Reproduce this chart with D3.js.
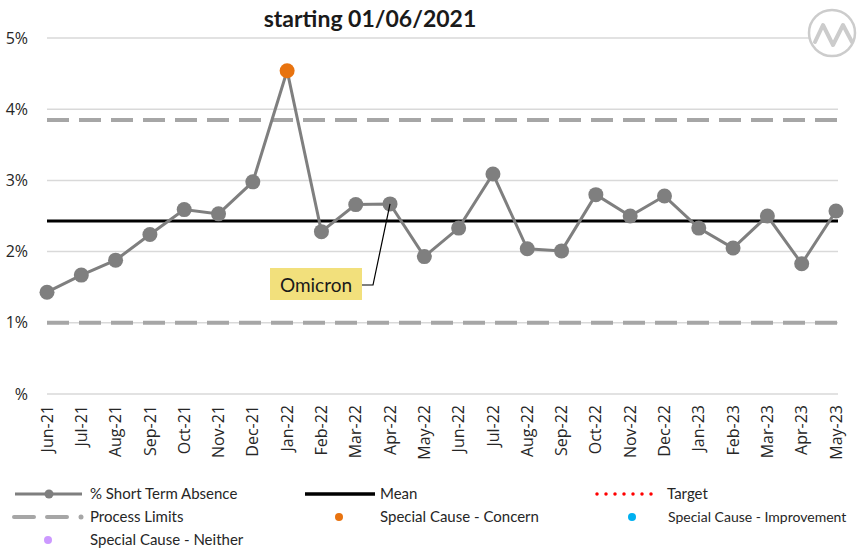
<!DOCTYPE html>
<html><head><meta charset="utf-8">
<script src="https://cdn.jsdelivr.net/npm/d3@7"></script>
<style>body{margin:0;background:#fff}svg{display:block;font-family:Lato,"Open Sans",sans-serif}</style>
</head><body><svg id="c" width="859" height="548"></svg>
<script>
const months = ["Jun-21","Jul-21","Aug-21","Sep-21","Oct-21","Nov-21","Dec-21","Jan-22","Feb-22","Mar-22","Apr-22","May-22","Jun-22","Jul-22","Aug-22","Sep-22","Oct-22","Nov-22","Dec-22","Jan-23","Feb-23","Mar-23","Apr-23","May-23"];
const absence = [1.43,1.67,1.88,2.24,2.59,2.53,2.98,4.54,2.28,2.66,2.67,1.93,2.33,3.09,2.04,2.01,2.80,2.50,2.78,2.33,2.05,2.50,1.83,2.57];
const specialConcern = ["Jan-22"];
const meanValue = 2.43;
const upperLimit = 3.85;
const lowerLimit = 1.00;
const yTicks = [0,1,2,3,4,5];
const yTickLabels = ["%","1%","2%","3%","4%","5%"];
const annotation = {label:"Omicron", month:"Apr-22"};
const title = "starting 01/06/2021";

const svg = d3.select("#c");
const x = d3.scalePoint().domain(months).range([47,836]);
const y = d3.scaleLinear().domain([0,5]).range([394,38]);
const x0 = 47, x1 = 838;
const axisFont = "'Open Sans',sans-serif";

// gridlines
svg.append("g").selectAll("line").data(yTicks).join("line")
  .attr("x1",x0).attr("x2",x1).attr("y1",d=>y(d)).attr("y2",d=>y(d))
  .attr("stroke","#d9d9d9").attr("stroke-width",1.5);

// y labels
svg.append("g").selectAll("text").data(yTicks).join("text")
  .attr("x",28).attr("y",d=>y(d)).attr("dy","0.35em").attr("text-anchor","end")
  .attr("font-family",axisFont).attr("font-size",16).attr("fill","#262626").text((d,i)=>yTickLabels[i]);

// x labels
svg.append("g").selectAll("text").data(months).join("text")
  .attr("transform",d=>`translate(${x(d)},405) rotate(-90)`)
  .attr("dy","0.35em").attr("text-anchor","end").attr("font-family",axisFont).attr("font-size",16).attr("fill","#262626")
  .text(d=>d);

// process limits
[upperLimit,lowerLimit].forEach(v=>{
  svg.append("line").attr("x1",x0).attr("x2",x1).attr("y1",y(v)).attr("y2",y(v))
    .attr("stroke","#a6a6a6").attr("stroke-width",4).attr("stroke-dasharray","22,10");
});
// mean
svg.append("line").attr("x1",x0).attr("x2",x1).attr("y1",y(meanValue)).attr("y2",y(meanValue))
  .attr("stroke","#000").attr("stroke-width",3);

// series line
svg.append("path").datum(absence)
  .attr("d",d3.line().x((d,i)=>x(months[i])).y(d=>y(d)))
  .attr("fill","none").attr("stroke","#7f7f7f").attr("stroke-width",3);
svg.append("g").selectAll("circle").data(absence).join("circle")
  .attr("cx",(d,i)=>x(months[i])).attr("cy",d=>y(d)).attr("r",7.5)
  .attr("fill",(d,i)=>specialConcern.includes(months[i])?"#e8730f":"#7f7f7f");

// icon
const ic = svg.append("g");
ic.append("circle").attr("cx",832).attr("cy",33).attr("r",23).attr("fill","#fff").attr("stroke","#cccccc").attr("stroke-width",2.5);
ic.append("path").attr("d","M815,42 L823,25 L833,45 L843,25 L852,42").attr("fill","none")
  .attr("stroke","#cccccc").attr("stroke-width",4).attr("stroke-linecap","round").attr("stroke-linejoin","round");

// title
svg.append("text").attr("x",370).attr("y",27).attr("text-anchor","middle")
  .attr("font-size",23).attr("font-weight","bold").attr("fill","#1a1a1a").text(title);

// annotation
const ax = x(annotation.month), ay = y(absence[months.indexOf(annotation.month)]);
svg.append("path").attr("d",`M${ax},${ay} L373,285 L362,285`).attr("fill","none").attr("stroke","#000").attr("stroke-width",1.2);
svg.append("rect").attr("x",270).attr("y",268).attr("width",92).attr("height",32).attr("fill","#f2e07c");
svg.append("text").attr("x",316).attr("y",285).attr("dy","0.35em").attr("text-anchor","middle")
  .attr("font-size",19).attr("fill","#1a1a1a").text(annotation.label);

// legend
const lg = svg.append("g").attr("font-size",15).attr("fill","#262626");
function ltext(tx,ty,t){return lg.append("text").attr("x",tx).attr("y",ty).attr("dy","0.35em").text(t);}
lg.append("line").attr("x1",15).attr("x2",82).attr("y1",494).attr("y2",494).attr("stroke","#7f7f7f").attr("stroke-width",3);
lg.append("circle").attr("cx",49).attr("cy",494).attr("r",4.5).attr("fill","#7f7f7f");
ltext(90,494,"% Short Term Absence");
lg.append("line").attr("x1",305).attr("x2",375).attr("y1",494).attr("y2",494).attr("stroke","#000").attr("stroke-width",3.5);
ltext(380,494,"Mean");
lg.append("line").attr("x1",597).attr("x2",660).attr("y1",494).attr("y2",494).attr("stroke","#ff0000").attr("stroke-width",3.5).attr("stroke-dasharray","0,9").attr("stroke-linecap","round");
ltext(667,494,"Target");
lg.append("line").attr("x1",14).attr("x2",67).attr("y1",517).attr("y2",517).attr("stroke","#a6a6a6").attr("stroke-width",4).attr("stroke-dasharray","20,13").attr("stroke-linecap","round");
lg.append("circle").attr("cx",81).attr("cy",517).attr("r",2.5).attr("fill","#a6a6a6");
ltext(90,517,"Process Limits");
lg.append("circle").attr("cx",339).attr("cy",517).attr("r",4).attr("fill","#e8730f");
ltext(380,517,"Special Cause - Concern");
lg.append("circle").attr("cx",632).attr("cy",517).attr("r",4).attr("fill","#00b0f0");
ltext(668,517,"Special Cause - Improvement").attr("font-size",14);
lg.append("circle").attr("cx",48).attr("cy",540).attr("r",4).attr("fill","#cc99ff");
ltext(90,540,"Special Cause - Neither");
</script></body></html>
